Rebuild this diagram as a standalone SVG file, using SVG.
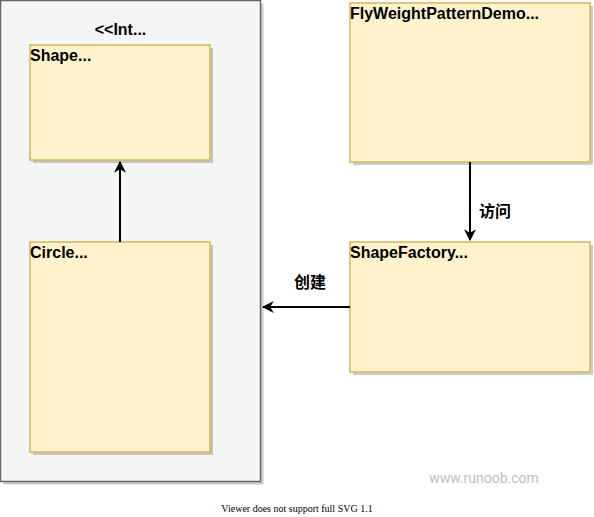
<svg xmlns="http://www.w3.org/2000/svg" width="594" height="517" viewBox="0 0 594 517">
<style>
.box{fill:#fff2cc;stroke:#d6b656;stroke-width:1.5}
.shadow{fill:#000;opacity:0.2}
.lbl{font-family:"Liberation Sans",Arial,"Noto Sans CJK SC",sans-serif;font-size:16px;font-weight:bold;fill:#000}
.edge{stroke:#000;stroke-width:2;fill:none}
</style>
<defs>
<marker id="arr" viewBox="0 0 10 10" refX="9" refY="5" markerWidth="6" markerHeight="6" orient="auto" markerUnits="strokeWidth">
<path d="M0,0 L10,5 L0,10 L3,5 Z" fill="#000"/>
</marker>
</defs>
<rect width="594" height="517" fill="#fff"/>
<g id="interface">
<rect class="shadow" x="3.5" y="3.5" width="260" height="481"/>
<rect x="0.5" y="0.5" width="260" height="481" fill="#f5f5f5" stroke="#666666" stroke-width="1.5"/>
<text class="lbl" x="120.5" y="35" text-anchor="middle">&lt;&lt;Int...</text>
</g>
<g id="shape">
<rect class="shadow" x="33" y="48" width="180" height="115"/>
<rect class="box" x="30" y="45" width="180" height="115"/>
<text class="lbl" x="30" y="61">Shape...</text>
</g>
<g id="circle">
<rect class="shadow" x="33" y="245" width="180" height="210"/>
<rect class="box" x="30" y="242" width="180" height="210"/>
<text class="lbl" x="30" y="258">Circle...</text>
</g>
<g id="demo">
<rect class="shadow" x="353" y="6" width="240" height="159"/>
<rect class="box" x="350" y="3" width="240" height="159"/>
<text class="lbl" x="350" y="19">FlyWeightPatternDemo...</text>
</g>
<g id="factory">
<rect class="shadow" x="353" y="245" width="240" height="130"/>
<rect class="box" x="350" y="242" width="240" height="130"/>
<text class="lbl" x="350" y="258">ShapeFactory...</text>
</g>
<g id="connectors">
<line class="edge" x1="120" y1="242" x2="120" y2="162" marker-end="url(#arr)"/>
<line class="edge" x1="470" y1="162" x2="470" y2="240" marker-end="url(#arr)"/>
<text class="lbl" x="479" y="217">访问</text>
<line class="edge" x1="350" y1="307" x2="263" y2="307" marker-end="url(#arr)"/>
<text class="lbl" x="310" y="288" text-anchor="middle">创建</text>
</g>
<text x="484" y="483" text-anchor="middle" font-family="Roboto,'Liberation Sans',sans-serif" font-size="14" fill="#c0c0c0">www.runoob.com</text>
<text x="297" y="512" text-anchor="middle" font-family="'Liberation Serif',serif" font-size="10" fill="#000">Viewer does not support full SVG 1.1</text>
</svg>
